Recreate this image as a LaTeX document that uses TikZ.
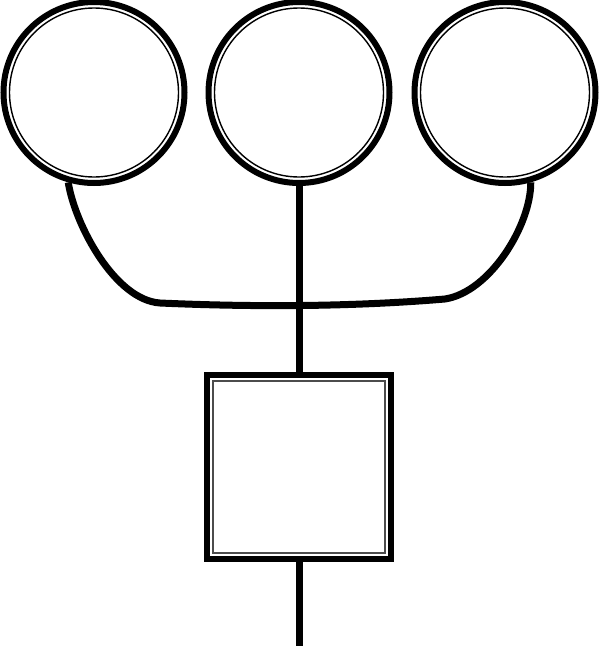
\documentclass[tikz,border=0pt]{standalone}

\tikzstyle{ring} = [circle, draw, line width=6pt, minimum size=181pt, inner sep=0pt]
\tikzstyle{inner ring} = [circle, draw, line width=1.4pt, minimum size=169pt, inner sep=0pt]
\tikzstyle{block} = [rectangle, draw, line width=6pt, minimum size=184pt, inner sep=0pt]
\tikzstyle{inner block} = [rectangle, draw=black!70, line width=1.4pt, minimum size=172pt, inner sep=0pt]
\tikzstyle{line} = [draw, line width=7pt]

\begin{document}
\begin{tikzpicture}[x=1pt, y=-1pt]
    \useasboundingbox (0,0) rectangle (599,646);

    \node [ring] (c1) at (94,92.5) {};
    \node [ring] (c2) at (299,92.5) {};
    \node [ring] (c3) at (505,92.5) {};
    \foreach \n in {c1,c2,c3}
        \node [inner ring] at (\n) {};

    \node [block] (box) at (299,467) {};
    \node [inner block] at (box) {};

    \coordinate (bendl) at (160,303);
    \coordinate (bendr) at (445,299);
    \coordinate (tail) at (299,646);

    \path [line] (c1.-106) .. controls (75,225) and (115,300) .. (bendl)
        .. controls (250,307) and (350,307) .. (bendr)
        .. controls (490,292) and (531,225) .. (c3.-74);
    \path [line] (c2) -- (box);
    \path [line] (box) -- (tail);
\end{tikzpicture}
\end{document}
